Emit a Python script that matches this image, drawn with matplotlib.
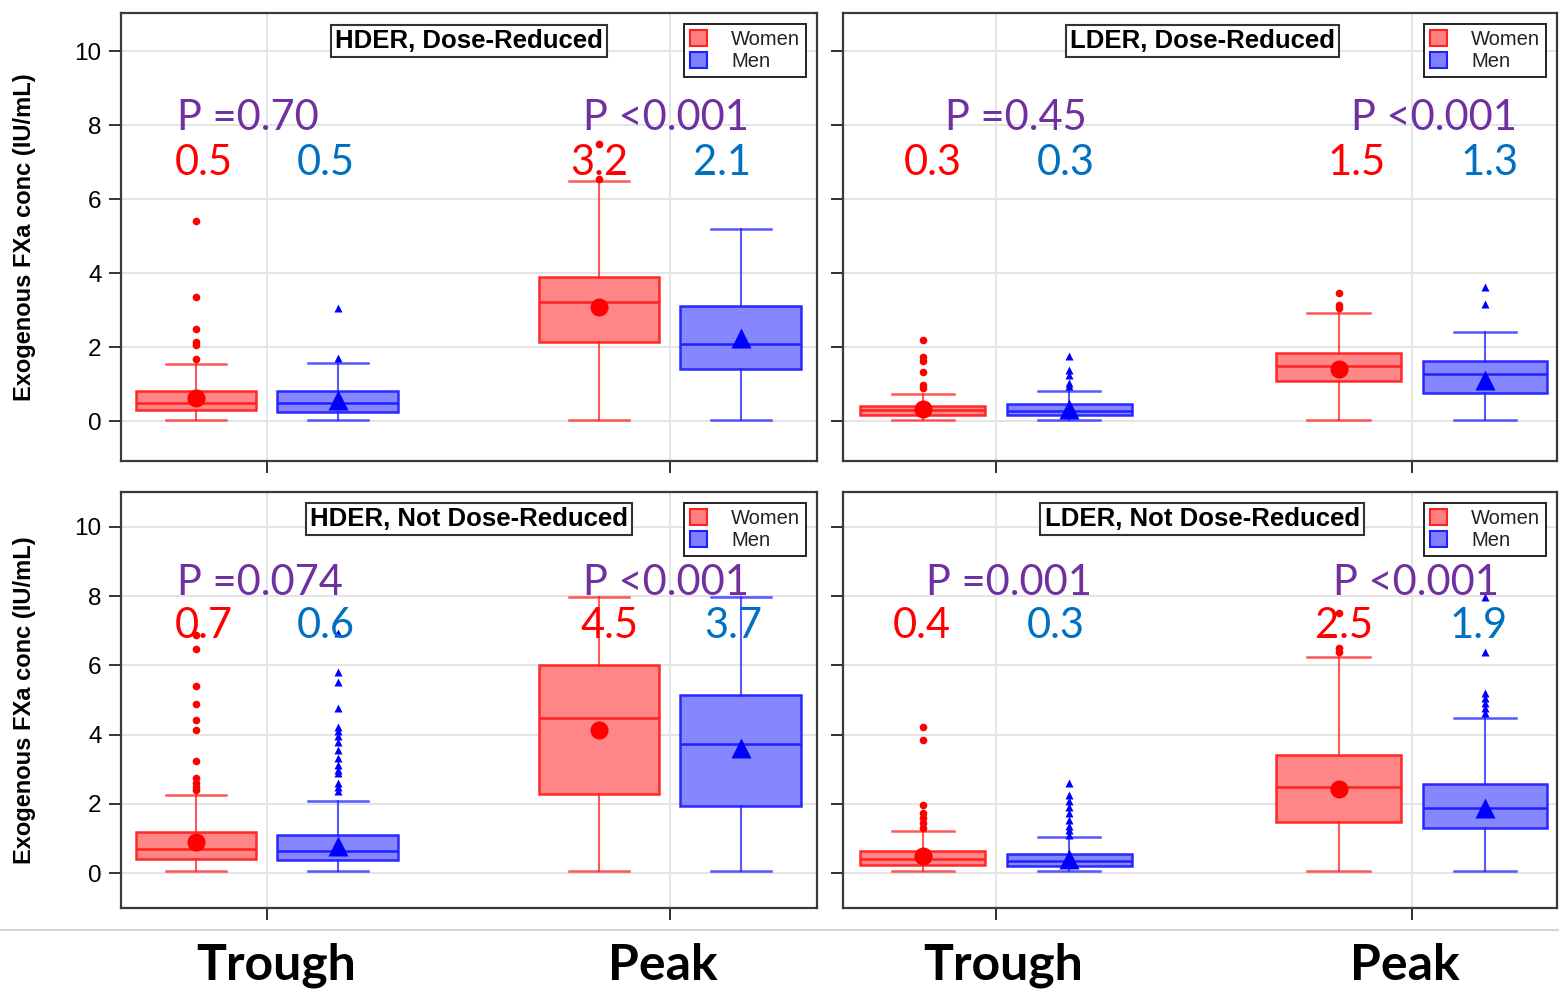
import matplotlib
matplotlib.use("Agg")
import matplotlib.pyplot as plt
from matplotlib.patches import Patch
from matplotlib.lines import Line2D

# ---------------------------------------------------------------- data
panel_titles = ["HDER, Dose-Reduced", "LDER, Dose-Reduced",
                "HDER, Not Dose-Reduced", "LDER, Not Dose-Reduced"]
timepoints = ["Trough", "Peak"]
p_values = [["P =0.70", "P <0.001"], ["P =0.45", "P <0.001"],
            ["P =0.074", "P <0.001"], ["P =0.001", "P <0.001"]]

# Box statistics per panel, each entry is [trough, peak]
women_q1 = [[0.30, 2.15], [0.17, 1.07], [0.41, 2.29], [0.22, 1.47]]
women_med = [[0.50, 3.23], [0.29, 1.50], [0.70, 4.49], [0.41, 2.48]]
women_q3 = [[0.82, 3.90], [0.42, 1.84], [1.18, 6.00], [0.65, 3.41]]
women_lo = [[0.04, 0.04], [0.04, 0.04], [0.07, 0.07], [0.07, 0.07]]
women_hi = [[1.55, 6.48], [0.74, 2.91], [2.26, 7.97], [1.22, 6.25]]
women_mean = [[0.62, 3.08], [0.32, 1.41], [0.89, 4.14], [0.48, 2.43]]
women_out = [
    [[1.68, 2.06, 2.15, 2.50, 3.35, 5.42], [6.55, 7.48]],
    [[0.89, 0.98, 1.32, 1.61, 1.73, 2.20], [3.06, 3.15, 3.46]],
    [[2.41, 2.50, 2.60, 2.74, 3.24, 4.12, 4.41, 4.88, 5.40, 6.48, 6.88], []],
    [[1.30, 1.44, 1.59, 1.73, 1.97, 3.85, 4.23], [6.40, 6.50, 7.50]],
]

men_q1 = [[0.25, 1.42], [0.15, 0.77], [0.38, 1.93], [0.19, 1.29]]
men_med = [[0.48, 2.09], [0.26, 1.27], [0.63, 3.72], [0.34, 1.89]]
men_q3 = [[0.82, 3.12], [0.45, 1.63], [1.09, 5.15], [0.55, 2.57]]
men_lo = [[0.04, 0.04], [0.04, 0.04], [0.07, 0.07], [0.07, 0.07]]
men_hi = [[1.56, 5.18], [0.80, 2.40], [2.08, 7.97], [1.03, 4.49]]
men_mean = [[0.57, 2.25], [0.33, 1.12], [0.79, 3.60], [0.40, 1.88]]
men_out = [
    [[1.70, 3.05], []],
    [[0.94, 1.02, 1.25, 1.39, 1.75], [3.17, 3.63]],
    [[2.36, 2.50, 2.60, 2.89, 2.98, 3.13, 3.32, 3.56, 3.80, 3.95, 4.09,
      4.23, 4.78, 5.51, 5.82, 6.93], []],
    [[1.10, 1.25, 1.35, 1.54, 1.73, 1.92, 2.07, 2.26, 2.60],
     [4.62, 4.76, 4.91, 5.05, 5.20, 6.38, 7.97]],
]

# ---------------------------------------------------------------- styling
RED, RED_FILL, RED_MARK = "#ff2020", "#ff8080", "#ff0000"
BLUE, BLUE_FILL, BLUE_MARK = "#2020ff", "#8080ff", "#0000ff"
PURPLE = "#7030a0"
MED_RED, MED_BLUE = "#ff0000", "#0070c0"
ANNOT_FONT = "Lato"
AXIS_FONT = "Liberation Sans"

W, H = 1559, 989
fig = plt.figure(figsize=(W / 100, H / 100), dpi=100)


def frac_rect(x0, y0, x1, y1):
    return [x0 / W, 1 - y1 / H, (x1 - x0) / W, (y1 - y0) / H]


axes_px = [(121, 13, 817, 461), (843, 13, 1557, 461),
           (121, 492, 817, 908), (843, 492, 1557, 908)]
xlims = [(-0.362, 1.365), (-0.368, 1.349), (-0.362, 1.365), (-0.368, 1.349)]
ylims = [(-1.08, 11.03), (-1.08, 11.03), (-1.01, 11.01), (-1.01, 11.01)]

# annotation anchors (left edge x in data units) per panel:
# [p trough, p peak, women trough, men trough, women peak, men peak]
annot_x = [
    [-0.223, 0.784, -0.228, 0.074, 0.752, 1.057],
    [-0.123, 0.853, -0.221, 0.099, 0.798, 1.118],
    [-0.223, 0.784, -0.228, 0.074, 0.779, 1.084],
    [-0.168, 0.810, -0.248, 0.075, 0.767, 1.091],
]
p_base = [7.88, 7.88, 8.04, 8.04]
med_base = [6.66, 6.66, 6.79, 6.79]

offset = 0.176
box_w = 0.30


def stats_for(q1, med, q3, lo, hi, mean, out):
    return [dict(q1=q1[i], med=med[i], q3=q3[i], whislo=lo[i], whishi=hi[i],
                 mean=mean[i], fliers=out[i]) for i in range(2)]


def draw_group(ax, stats, positions, color, fill, mark, mean_marker,
               mean_size, flier_marker, flier_size):
    ax.bxp(stats, positions=positions, widths=box_w, patch_artist=True,
           showmeans=True, manage_ticks=False,
           boxprops=dict(facecolor=fill, edgecolor=color, linewidth=1.8,
                         alpha=0.95),
           medianprops=dict(color=color, linewidth=1.8),
           whiskerprops=dict(color=color, linewidth=1.5, alpha=0.75),
           capprops=dict(color=color, linewidth=1.8, alpha=0.75),
           meanprops=dict(marker=mean_marker, markerfacecolor=mark,
                          markeredgecolor="none", markersize=mean_size),
           flierprops=dict(marker=flier_marker, markerfacecolor=mark,
                           markeredgecolor="none", markersize=flier_size))


for k in range(4):
    ax = fig.add_axes(frac_rect(*axes_px[k]))
    ax.set_xlim(*xlims[k])
    ax.set_ylim(*ylims[k])
    ax.set_axisbelow(True)
    ax.grid(True, color="#e4e4e4", linewidth=1.4)

    w_stats = stats_for(women_q1[k], women_med[k], women_q3[k], women_lo[k],
                        women_hi[k], women_mean[k], women_out[k])
    m_stats = stats_for(men_q1[k], men_med[k], men_q3[k], men_lo[k],
                        men_hi[k], men_mean[k], men_out[k])
    draw_group(ax, w_stats, [0 - offset, 1 - offset], RED, RED_FILL, RED_MARK,
               "o", 13, "o", 5.5)
    draw_group(ax, m_stats, [0 + offset, 1 + offset], BLUE, BLUE_FILL,
               BLUE_MARK, "^", 15, "^", 6)

    # ticks and frame
    ax.set_xticks([0, 1])
    ax.set_xticklabels([])
    ax.set_yticks([0, 2, 4, 6, 8, 10])
    if k in (0, 2):
        ax.set_yticklabels(["0", "2", "4", "6", "8", "10"],
                           fontsize=17.5, family=AXIS_FONT)
    else:
        ax.set_yticklabels([])
    ax.tick_params(axis="y", length=9, width=1.3, pad=5, color="#222222")
    ax.tick_params(axis="x", length=8.5, width=1.3, color="#222222")
    for s in ax.spines.values():
        s.set_color("#3a3a3a")
        s.set_linewidth(1.6)

    # panel title
    ax.text(0.5 if k in (0, 2) else 0.503, 0.9375 if k < 2 else 0.935,
            panel_titles[k], transform=ax.transAxes, ha="center", va="center",
            fontsize=18.5, fontweight="bold", family=AXIS_FONT,
            bbox=dict(boxstyle="square,pad=0.16", facecolor="white",
                      edgecolor="#333333", linewidth=1.5))

    # legend
    handles = [Patch(facecolor=RED_FILL, edgecolor=RED, linewidth=1.5),
               Patch(facecolor=BLUE_FILL, edgecolor=BLUE, linewidth=1.5)]
    leg = ax.legend(handles, ["Women", "Men"], loc="upper right",
                    fancybox=False, framealpha=1, edgecolor="#222222",
                    prop=dict(family=AXIS_FONT, size=14.5),
                    handlelength=0.85, handleheight=0.85, handletextpad=1.2,
                    borderaxespad=0.55, labelspacing=0.15, borderpad=0.3)
    leg.get_frame().set_linewidth(1.4)
    for t in leg.get_texts():
        t.set_color("#222222")

    # p-values and median labels
    xs = annot_x[k]
    ax.text(xs[0], p_base[k], p_values[k][0], color=PURPLE, fontsize=30,
            family=ANNOT_FONT, va="baseline", ha="left")
    ax.text(xs[1], p_base[k], p_values[k][1], color=PURPLE, fontsize=30,
            family=ANNOT_FONT, va="baseline", ha="left")
    ax.text(xs[2], med_base[k], f"{women_med[k][0]:.1f}", color=MED_RED,
            fontsize=30, family=ANNOT_FONT, va="baseline", ha="left")
    ax.text(xs[3], med_base[k], f"{men_med[k][0]:.1f}", color=MED_BLUE,
            fontsize=30, family=ANNOT_FONT, va="baseline", ha="left")
    ax.text(xs[4], med_base[k], f"{women_med[k][1]:.1f}", color=MED_RED,
            fontsize=30, family=ANNOT_FONT, va="baseline", ha="left")
    ax.text(xs[5], med_base[k], f"{men_med[k][1]:.1f}", color=MED_BLUE,
            fontsize=30, family=ANNOT_FONT, va="baseline", ha="left")

# y-axis titles
for yc in (237, 700):
    fig.text(25 / W, 1 - yc / H, "Exogenous FXa conc (IU/mL)", rotation=90,
             ha="center", va="center", fontsize=17, fontweight="bold",
             family=AXIS_FONT)

# separator and time-point labels
fig.add_artist(Line2D([0, 1], [1 - 930 / H, 1 - 930 / H],
                      transform=fig.transFigure, color="#d4d4d4", linewidth=1.5))
for xc, lab in zip((276, 663, 1003, 1405), timepoints * 2):
    fig.text(xc / W, 1 - 980 / H, lab, ha="center", va="baseline",
             fontsize=36, fontweight="bold", family=ANNOT_FONT)

fig.savefig("out.png", dpi=100, facecolor="white")
